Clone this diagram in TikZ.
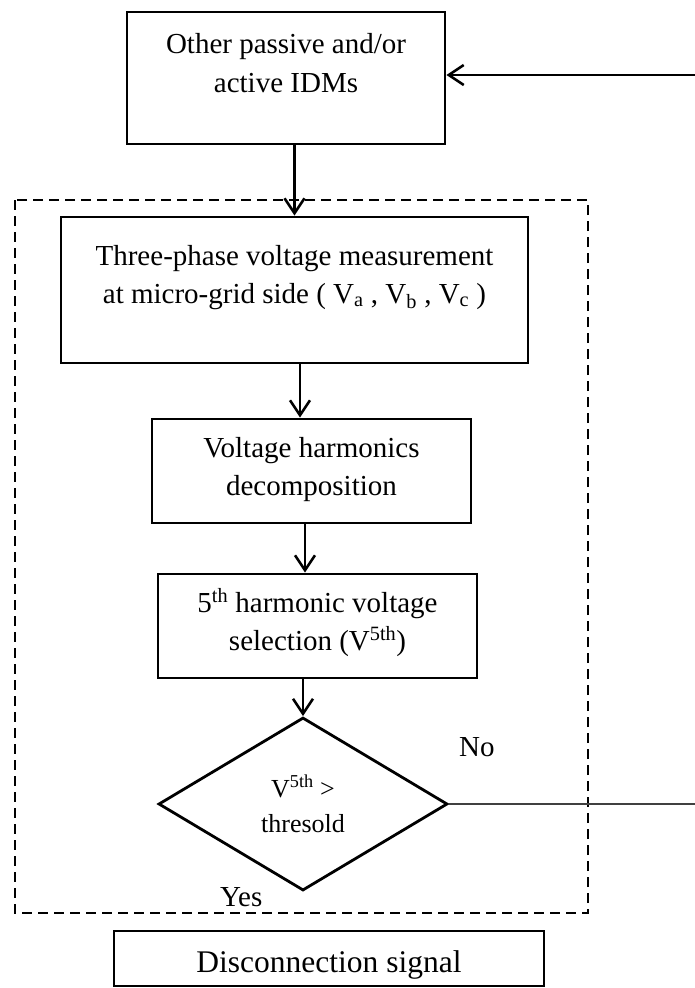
\documentclass[tikz,border=0pt]{standalone}
\usepackage{fontspec}
\setmainfont{Liberation Serif}
\usetikzlibrary{arrows.meta,shapes.geometric}
\begin{document}
\begin{tikzpicture}[x=1pt,y=-1pt,
  blk/.style={draw, rectangle, line width=2.8pt, inner sep=0pt},
  decision/.style={draw, diamond, line width=2.8pt, inner sep=0pt},
  arr/.style={line width=2.6pt, -{Straight Barb[length=15pt,width=20pt,line width=2.6pt]}},
  lbl/.style={anchor=base, inner sep=0pt, font=\fontsize{29}{35}\selectfont},
  smalllbl/.style={anchor=base, inner sep=0pt, font=\fontsize{26}{32}\selectfont},
  biglbl/.style={anchor=base, inner sep=0pt, font=\fontsize{31.5}{38}\selectfont},
  zone/.style={line width=2.7pt, dash pattern=on 10pt off 6pt},
  plain/.style={line width=1.4pt, draw=black!75}]
\useasboundingbox (0,0) rectangle (695,988);

% detection zone
\draw[zone] (15,200) rectangle (588,913);

% blocks
\node[blk, minimum width=318pt, minimum height=132pt] (top)  at (286,78) {};
\node[blk, minimum width=467pt, minimum height=146pt] (meas) at (294.5,290) {};
\node[blk, minimum width=319pt, minimum height=104pt] (dec)  at (311.5,471) {};
\node[blk, minimum width=319pt, minimum height=104pt] (sel)  at (317.5,626) {};
\node[decision, minimum width=289pt, minimum height=173pt] (cmp) at (303,804) {};
\node[blk, minimum width=430pt, minimum height=55pt] (sig)  at (329,958.5) {};

% block texts
\node[lbl] (top1) at (286,53) {Other passive and/or};
\node[lbl] (top2) at (286,92) {active IDMs};
\node[lbl] (meas1) at (294.5,265) {Three-phase voltage measurement};
\node[lbl] (meas2) at (294.5,303) {at micro-grid side ( V\textsubscript{a} , V\textsubscript{b} , V\textsubscript{c} )};
\node[lbl] (dec1) at (311.5,457) {Voltage harmonics};
\node[lbl] (dec2) at (311.5,495) {decomposition};
\node[lbl] (sel1) at (317.5,612) {5\textsuperscript{th} harmonic voltage};
\node[lbl] (sel2) at (317.5,650) {selection (V\textsuperscript{5th})};
\node[smalllbl] (cmp1) at (303,797) {V\textsuperscript{5th} >};
\node[smalllbl] (cmp2) at (303,832) {thresold};
\node[biglbl] (sig1) at (329,972) {Disconnection signal};
\node[lbl, anchor=base west] (no)  at (459,756) {No};
\node[lbl, anchor=base west] (yes) at (220,906) {Yes};

% connectors
\coordinate (fbin) at (695,75);
\coordinate (noout) at (695,804);
\draw[arr] (fbin) -- (fbin -| top.east);
\draw[arr] (top.south -| meas.north) -- (meas.north);
\draw[arr] ([xshift=5.5pt]meas.south) -- ([xshift=5.5pt]meas.south |- dec.north);
\draw[arr] ([xshift=-6.5pt]dec.south) -- ([xshift=-6.5pt]dec.south |- sel.north);
\draw[arr] (sel.south -| cmp.north) -- (cmp.north);
\draw[plain] (cmp.east) -- (cmp.east -| noout);
\end{tikzpicture}
\end{document}
